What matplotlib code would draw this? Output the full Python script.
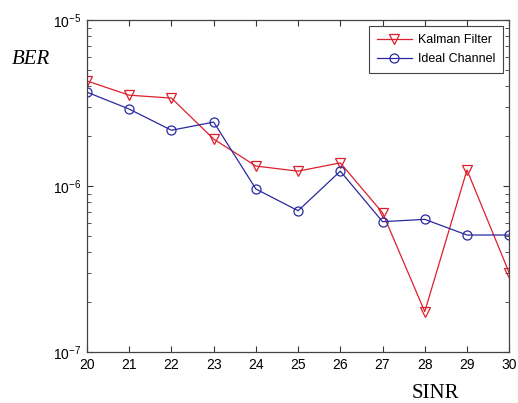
import matplotlib
matplotlib.use("Agg")
import matplotlib.pyplot as plt
from matplotlib.ticker import LogLocator, NullFormatter

sinr = [20, 21, 22, 23, 24, 25, 26, 27, 28, 29, 30]
ber_kalman = [4.3e-6, 3.53e-6, 3.39e-6, 1.92e-6, 1.32e-6, 1.23e-6, 1.38e-6, 6.9e-7, 1.75e-7, 1.25e-6, 3.0e-7]
ber_ideal = [3.68e-6, 2.91e-6, 2.17e-6, 2.43e-6, 9.6e-7, 7.1e-7, 1.23e-6, 6.1e-7, 6.3e-7, 5.07e-7, 5.07e-7]

RED = "#dc1f2c"
BLUE = "#2a2aa0"

plt.rcParams["font.family"] = ["Liberation Sans", "DejaVu Sans"]

fig = plt.figure(figsize=(5.18, 4.03), dpi=100)
ax = fig.add_axes([0.168, 0.1266, 0.815, 0.8234])

ax.semilogy(sinr, ber_kalman, color=RED, lw=0.9, marker="v", ms=6.5,
            mfc="none", mec=RED, mew=0.9, label="Kalman Filter")
ax.semilogy(sinr, ber_ideal, color=BLUE, lw=0.9, marker="o", ms=6.5,
            mfc="none", mec=BLUE, mew=0.9, label="Ideal Channel")

ax.set_xlim(20, 30)
ax.set_ylim(1e-7, 1e-5)
ax.set_xticks(sinr)
ax.yaxis.set_major_locator(LogLocator(base=10, numticks=5))
ax.yaxis.set_minor_locator(LogLocator(base=10, subs=range(2, 10), numticks=20))
ax.yaxis.set_minor_formatter(NullFormatter())
ax.tick_params(which="both", direction="in", top=True, right=True,
               labelsize=10, colors="#333333", labelcolor="black")
ax.tick_params(which="major", length=4, width=0.8)
ax.tick_params(which="minor", length=3, width=0.6)
ax.tick_params(axis="x", pad=4)
ax.tick_params(axis="y", pad=4)
for sp in ax.spines.values():
    sp.set_linewidth(0.9)
    sp.set_color("#444444")

leg = ax.legend(loc="upper right", fontsize=9, fancybox=False, framealpha=1,
                edgecolor="#444444", borderaxespad=0.5, handlelength=2.8,
                borderpad=0.6, labelspacing=0.6, handletextpad=0.5)
leg.get_frame().set_linewidth(0.8)

fig.text(12 / 518, 1 - 60 / 403, "BER", fontsize=15, style="italic",
         family="Liberation Serif", ha="left", va="center")
fig.text(435 / 518, 1 - 393 / 403, "SINR", fontsize=15,
         family="Liberation Serif", ha="center", va="center")

fig.savefig("out.png", dpi=100)
